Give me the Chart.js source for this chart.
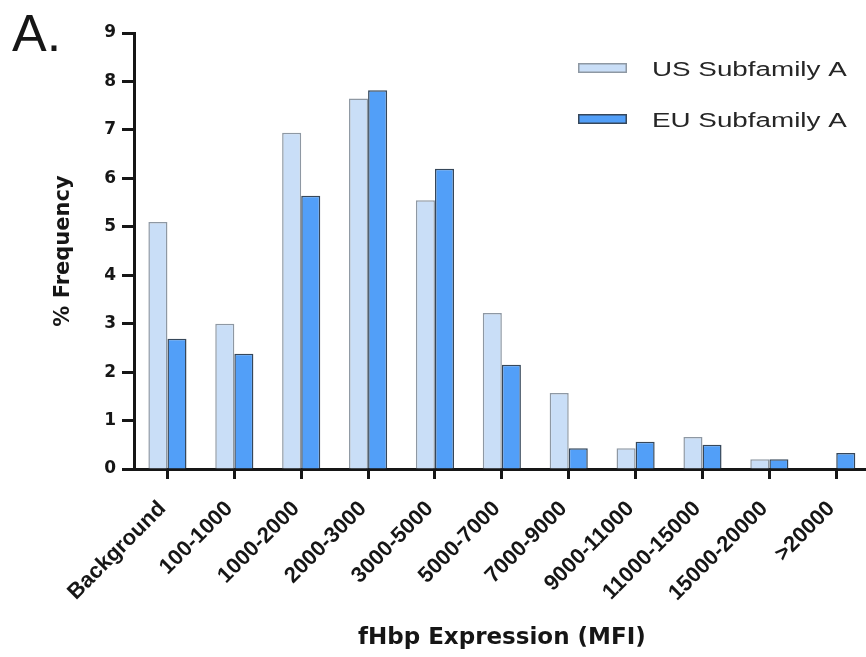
<!DOCTYPE html>
<html>
<head>
<meta charset="utf-8">
<script src="https://cdn.jsdelivr.net/npm/chart.js@4.4.1/dist/chart.umd.min.js"></script>
<style>
  html, body { margin: 0; padding: 0; background: #ffffff; overflow: hidden; }
  #wrap { width: 872px; height: 657px; }
</style>
</head>
<body>
<div id="wrap"><canvas id="chart" width="872" height="657"></canvas></div>
<script>
// MFI bins of fHbp expression
const categories = ['Background', '100-1000', '1000-2000', '2000-3000', '3000-5000', '5000-7000',
                    '7000-9000', '9000-11000', '11000-15000', '15000-20000', '>20000'];
// % frequency per bin
const usSubfamilyA = [5.10, 3.00, 6.94, 7.65, 5.55, 3.22, 1.57, 0.43, 0.66, 0.20, 0.00];
const euSubfamilyA = [2.69, 2.38, 5.64, 7.82, 6.20, 2.15, 0.43, 0.56, 0.50, 0.20, 0.33];
const seriesNames = ['US Subfamily A', 'EU Subfamily A'];
const yTicks = [0, 1, 2, 3, 4, 5, 6, 7, 8, 9];
const panelLabel = 'A.';
const xTitle = 'fHbp Expression (MFI)';
const yTitle = '% Frequency';

const INK = '#161616';
const WIDE = '"DejaVu Sans", sans-serif';
const ARIAL = '"Liberation Sans", Arial, sans-serif';

// Panel letter in the top-left corner
const panelLetter = {
  id: 'panelLetter',
  afterDraw(chart) {
    const ctx = chart.ctx;
    ctx.save();
    ctx.fillStyle = INK;
    ctx.font = '52px ' + ARIAL;
    ctx.textAlign = 'left';
    ctx.textBaseline = 'alphabetic';
    ctx.fillText(panelLabel, 12, 51);
    ctx.restore();
  }
};

// Legend drawn inside the plot, top right, one row per dataset
const insideLegend = {
  id: 'insideLegend',
  afterDraw(chart) {
    const ctx = chart.ctx;
    const rows = [68, 119];
    ctx.save();
    chart.data.datasets.forEach((ds, i) => {
      const y = rows[i];
      ctx.fillStyle = ds.backgroundColor;
      ctx.strokeStyle = ds.borderColor;
      ctx.lineWidth = 1.5;
      ctx.fillRect(578, y - 5, 49, 10);
      ctx.strokeRect(578.75, y - 4.25, 47.5, 8.5);
      ctx.save();
      ctx.translate(652, y + 2);
      ctx.scale(1.39, 1);
      ctx.fillStyle = '#262626';
      ctx.font = '20px ' + ARIAL;
      ctx.textBaseline = 'middle';
      ctx.textAlign = 'left';
      ctx.fillText(ds.label, 0, 0);
      ctx.restore();
    });
    ctx.restore();
  }
};

new Chart(document.getElementById('chart'), {
  type: 'bar',
  data: {
    labels: categories,
    datasets: [
      {
        label: seriesNames[0],
        data: usSubfamilyA,
        backgroundColor: '#c9def7',
        borderColor: '#8e98a3',
        borderWidth: 1.5,
        categoryPercentage: 0.57,
        barPercentage: 1.0
      },
      {
        label: seriesNames[1],
        data: euSubfamilyA,
        backgroundColor: '#529ff8',
        borderColor: '#36475a',
        borderWidth: 1.5,
        categoryPercentage: 0.57,
        barPercentage: 1.0
      }
    ]
  },
  options: {
    responsive: false,
    animation: false,
    layout: { padding: { top: 33, right: 2, left: 0, bottom: 0 } },
    plugins: {
      legend: { display: false },
      tooltip: { enabled: false }
    },
    scales: {
      x: {
        offset: true,
        grid: {
          offset: false,
          drawOnChartArea: false,
          drawTicks: true,
          tickLength: 10,
          tickWidth: 3,
          tickColor: INK
        },
        border: { display: true, width: 3, color: INK },
        ticks: {
          autoSkip: false,
          minRotation: 45,
          maxRotation: 45,
          padding: 17,
          labelOffset: -5,
          color: INK,
          font: { family: ARIAL, weight: 'bold', size: 22 }
        },
        title: {
          display: true,
          text: xTitle,
          color: INK,
          font: { family: WIDE, weight: 'bold', size: 23 },
          padding: { top: 4, bottom: 5 }
        },
        afterFit(scale) { scale.height = 188; }
      },
      y: {
        min: 0,
        max: 9,
        afterBuildTicks(scale) { scale.ticks = yTicks.map(v => ({ value: v })); },
        grid: {
          drawOnChartArea: false,
          drawTicks: true,
          tickLength: 12,
          tickWidth: 3,
          tickColor: INK
        },
        border: { display: true, width: 3, color: INK },
        ticks: {
          padding: 6,
          color: INK,
          font: { family: WIDE, weight: 'bold', size: 17 }
        },
        title: {
          display: true,
          text: yTitle,
          color: INK,
          font: { family: WIDE, weight: 'bold', size: 21 },
          padding: { top: 51, bottom: 0 }
        },
        afterFit(scale) { scale.width = 134; }
      }
    }
  },
  plugins: [panelLetter, insideLegend]
});
</script>
</body>
</html>
